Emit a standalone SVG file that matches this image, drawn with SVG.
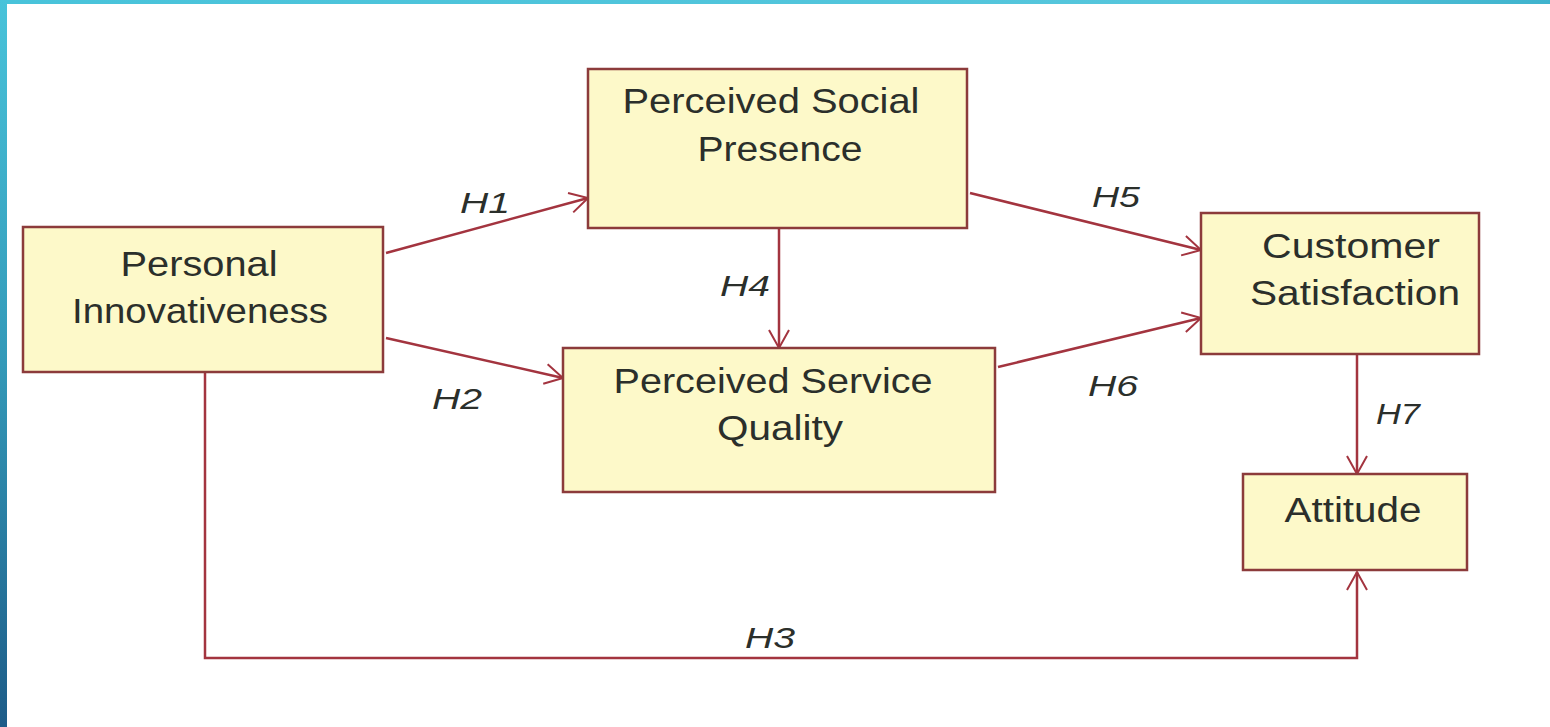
<svg xmlns="http://www.w3.org/2000/svg" width="1550" height="727" viewBox="0 0 1550 727">
<defs>
<linearGradient id="lbar" x1="0" y1="0" x2="0" y2="1">
<stop offset="0" stop-color="#48c3da"/>
<stop offset="0.5" stop-color="#3399b8"/>
<stop offset="1" stop-color="#1d5c88"/>
</linearGradient>
<linearGradient id="tbar" x1="0" y1="0" x2="1" y2="0">
<stop offset="0" stop-color="#48c3da"/>
<stop offset="0.8" stop-color="#56c6dc"/>
<stop offset="1" stop-color="#3fb3cd"/>
</linearGradient>
<marker id="arr" markerUnits="userSpaceOnUse" markerWidth="24" markerHeight="24" refX="19" refY="11" orient="auto">
<path d="M1,1 L19,11 L1,21" fill="none" stroke="#a3343f" stroke-width="2"/>
</marker>
<style>
.box{fill:#fdf9c9;stroke:#8c3b3b;stroke-width:2.5}
.t{font-family:"Liberation Sans",Arial,sans-serif;font-size:35px;fill:#2b2f2b;text-anchor:middle}
.h{font-family:"Liberation Sans",Arial,sans-serif;font-size:29px;font-style:italic;fill:#2b2f2b;text-anchor:middle}
.e{fill:none;stroke:#a3343f;stroke-width:2.5;marker-end:url(#arr)}
</style>
</defs>
<rect x="0" y="0" width="1550" height="727" fill="#ffffff"/>
<rect x="0" y="0" width="1550" height="4" fill="url(#tbar)"/>
<rect x="0" y="0" width="7" height="727" fill="url(#lbar)"/>

<g id="connectors">
<line class="e" x1="386" y1="253" x2="588" y2="198"/>
<line class="e" x1="386" y1="338" x2="563" y2="378"/>
<polyline class="e" points="205,372 205,658 1357,658 1357,572"/>
<line class="e" x1="779" y1="228" x2="779" y2="348"/>
<line class="e" x1="970" y1="193" x2="1201" y2="250"/>
<line class="e" x1="998" y1="367" x2="1201" y2="318"/>
<line class="e" x1="1357" y1="354" x2="1357" y2="474"/>
<text class="h" x="485" y="213" textLength="50" lengthAdjust="spacingAndGlyphs">H1</text>
<text class="h" x="457" y="409" textLength="50" lengthAdjust="spacingAndGlyphs">H2</text>
<text class="h" x="770" y="648" textLength="50" lengthAdjust="spacingAndGlyphs">H3</text>
<text class="h" x="745" y="296" textLength="50" lengthAdjust="spacingAndGlyphs">H4</text>
<text class="h" x="1116" y="207" textLength="48" lengthAdjust="spacingAndGlyphs">H5</text>
<text class="h" x="1113" y="396" textLength="50" lengthAdjust="spacingAndGlyphs">H6</text>
<text class="h" x="1398" y="424" textLength="44" lengthAdjust="spacingAndGlyphs">H7</text>
</g>

<g id="personal-innovativeness">
<rect class="box" x="23" y="227" width="360" height="145"/>
<text class="t" x="199" y="276" textLength="157" lengthAdjust="spacingAndGlyphs">Personal</text>
<text class="t" x="200" y="323" textLength="256" lengthAdjust="spacingAndGlyphs">Innovativeness</text>
</g>

<g id="perceived-social-presence">
<rect class="box" x="588" y="69" width="379" height="159"/>
<text class="t" x="771" y="113" textLength="297" lengthAdjust="spacingAndGlyphs">Perceived Social</text>
<text class="t" x="780" y="161" textLength="165" lengthAdjust="spacingAndGlyphs">Presence</text>
</g>

<g id="perceived-service-quality">
<rect class="box" x="563" y="348" width="432" height="144"/>
<text class="t" x="773" y="393" textLength="319" lengthAdjust="spacingAndGlyphs">Perceived Service</text>
<text class="t" x="780" y="440" textLength="126" lengthAdjust="spacingAndGlyphs">Quality</text>
</g>

<g id="customer-satisfaction">
<rect class="box" x="1201" y="213" width="278" height="141"/>
<text class="t" x="1351" y="258" textLength="178" lengthAdjust="spacingAndGlyphs">Customer</text>
<text class="t" x="1355" y="305" textLength="210" lengthAdjust="spacingAndGlyphs">Satisfaction</text>
</g>

<g id="attitude">
<rect class="box" x="1243" y="474" width="224" height="96"/>
<text class="t" x="1353" y="522" textLength="137" lengthAdjust="spacingAndGlyphs">Attitude</text>
</g>
</svg>
